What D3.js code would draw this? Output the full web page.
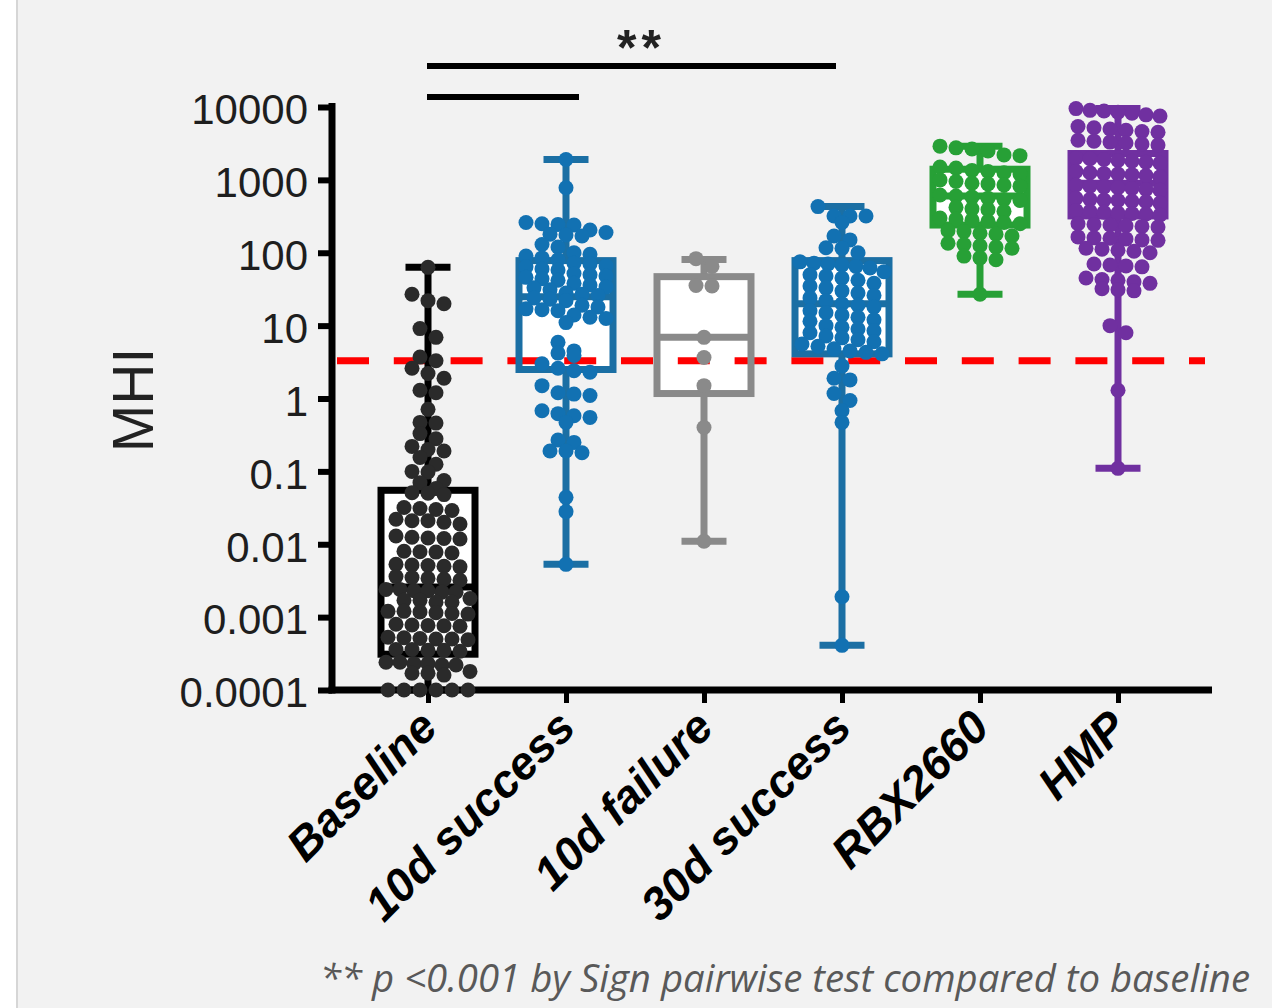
<!DOCTYPE html>
<html><head><meta charset="utf-8">
<script src="https://cdn.jsdelivr.net/npm/d3@7"></script>
<style>body{margin:0;background:#f2f2f2;} svg{display:block;}</style>
</head><body><svg id="chart" width="1272" height="1008"></svg>
<script>
// ---------------- data ----------------
const categories = ["Baseline", "10d success", "10d failure", "30d success", "RBX2660", "HMP"];

const baselineValues = [
  63, 27, 22, 20, 9.1, 6.9, 3.7, 3.3, 2.6, 2.2, 1.9, 1.3, 1.2, 0.71, 0.47, 0.46, 0.33, 0.28, 0.22, 0.2, 0.19,
  0.155, 0.125, 0.1, 0.098, 0.075, 0.07, 0.058, 0.051, 0.05,
  0.048, 0.032, 0.031, 0.03, 0.029,
  0.022, 0.021, 0.02, 0.021, 0.019,
  0.013, 0.0125, 0.012, 0.0118, 0.0122,
  0.008, 0.0078, 0.0076, 0.0079,
  0.0052, 0.0051, 0.005, 0.0049, 0.0053,
  0.0035, 0.0034, 0.0033, 0.0036, 0.0032,
  0.0024, 0.0023, 0.0022, 0.0023, 0.0024, 0.0022,
  0.0017, 0.0016, 0.0018, 0.0017, 0.0016,
  0.0012, 0.00115, 0.0011, 0.00118, 0.0012, 0.00112,
  0.0008, 0.00077, 0.00075, 0.00078, 0.00076,
  0.00052, 0.0005, 0.00051, 0.00053, 0.0005, 0.00049,
  0.00036, 0.00035, 0.00034, 0.00035, 0.00036,
  0.00024, 0.00023, 0.00022, 0.00023, 0.00024, 0.00022,
  0.00017, 0.00016, 0.00017, 0.00018,
  0.0001, 0.0001, 0.0001, 0.0001, 0.0001, 0.0001
];
const success10Values = [
  1900, 780,
  260, 250, 245, 240,
  205, 190, 180, 175, 170,
  130, 120,
  100, 95, 90, 85, 80,
  72, 70, 66, 64, 60, 58,
  52, 50, 48, 46, 44, 42,
  38, 36, 34, 33, 31,
  28, 27, 26, 24, 23, 22,
  19, 18, 17, 16.5, 16,
  14, 13, 12.5, 11,
  5.9, 4.5, 4.2, 3.9,
  3.0, 2.6, 2.4, 2.3,
  1.5, 1.2, 1.15, 1.1,
  0.68, 0.62, 0.58, 0.55, 0.47,
  0.27, 0.25, 0.19, 0.19, 0.18,
  0.044, 0.028, 0.0053
];
const failure10Values = [83, 65, 35.5, 35, 6.9, 3.65, 1.5, 0.40, 0.011];
const success30Values = [
  430, 320, 320, 320, 260, 170, 150, 117, 115, 100,
  75, 72, 70, 68, 65, 62,
  55, 50, 48, 45, 42,
  38, 35, 33, 30, 28, 26,
  24, 22, 20, 19, 18,
  16, 15, 14, 13, 12, 11.5,
  10, 9.5, 9, 8.5, 8,
  7.2, 6.8, 6.4, 6, 5.6, 5.2,
  4.8, 4.5, 4.3, 4.1,
  2.8, 1.9, 1.8, 1.17, 0.94, 0.68, 0.47, 0.0019, 0.00041
];
const rbxValues = [
  2900, 2750, 2650, 2500, 2200, 2150,
  1500, 1450, 1350, 1300, 1250, 1200,
  1000, 950, 900, 880, 850, 820,
  620, 600, 580, 560, 540, 520,
  420, 400, 390, 370,
  300, 290, 280, 270, 260, 250,
  200, 195, 185, 180, 170,
  135, 130, 125, 120, 115,
  90, 85, 80,
  27
];
const hmpValues = [
  9500, 9000, 8800, 8500, 8200, 7800, 7500,
  5400, 5200, 5000, 4800, 4600, 4500,
  3500, 3400, 3300, 3200, 3100, 3000,
  2000, 1950, 1900, 1850, 1800, 1750, 1700,
  1300, 1250, 1220, 1200, 1180, 1150, 1100,
  850, 820, 800, 780, 760, 740, 720,
  560, 540, 530, 520, 510, 500, 480,
  380, 370, 360, 350, 345, 340, 330,
  250, 245, 240, 235, 230, 225,
  165, 160, 158, 155, 150, 148,
  115, 112, 108, 105, 100,
  70, 68, 66, 64,
  45, 43, 42, 40, 38,
  32, 31, 30,
  10, 8, 1.3, 0.11
];

const boxMin    = [0.0001, 0.0053, 0.011, 0.00041, 27, 0.11];
const boxQ1     = [0.00031, 2.5, 1.17, 4.1, 240, 320];
const boxMedian = [0.0026, 25, 6.9, 20, 600, 900];
const boxQ3     = [0.055, 78, 47, 78, 1400, 2300];
const boxMax    = [63, 1900, 81, 430, 2900, 9500];

const yTickValues = [0.0001, 0.001, 0.01, 0.1, 1, 10, 100, 1000, 10000];
const yTickLabels = ["0.0001", "0.001", "0.01", "0.1", "1", "10", "100", "1000", "10000"];
const thresholdValue = 3.3;
const sigFrom = [0, 0];
const sigTo = [3, 1];
const sigLabels = ["**", ""];
const yAxisTitle = "MHI";
const footnote = "** p <0.001 by Sign pairwise test compared to baseline";

// ---------------- styles ----------------
const lineColors = ["#000000", "#1b6fa4", "#8a8a8a", "#1b6fa4", "#27a036", "#7030a0"];
const dotColors  = ["#2a2a2a", "#1271b2", "#8a8a8a", "#1271b2", "#27a036", "#7030a0"];
const groupValues = [baselineValues, success10Values, failure10Values, success30Values, rbxValues, hmpValues];

const svg = d3.select("#chart");
const W = 1272, H = 1008;

// background
svg.append("rect").attr("width", W).attr("height", H).attr("fill", "#f2f2f2");
svg.append("rect").attr("width", 16).attr("height", H).attr("fill", "#ffffff");
svg.append("rect").attr("x", 16).attr("width", 2).attr("height", H).attr("fill", "#d6d6d6");

const y = d3.scaleLog().domain([1e-4, 1e4]).range([690, 107]);
const x = d3.scalePoint().domain(categories).range([428, 1118]);
const axisX0 = 332, axisY0 = 690, axisRight = 1212;

// y axis
const yAxis = d3.axisLeft(y).tickValues(yTickValues)
  .tickFormat((d, i) => yTickLabels[i]).tickSize(14).tickPadding(10);
const gy = svg.append("g").attr("transform", `translate(${axisX0},0)`).call(yAxis);
gy.select(".domain").remove();
gy.selectAll(".tick line").attr("stroke", "#000").attr("stroke-width", 6);
gy.selectAll(".tick text").attr("font-family", "'Liberation Sans', Arial, sans-serif")
  .attr("font-size", 42).attr("fill", "#1e1e1e").attr("dy", "0.4em");
svg.append("line").attr("x1", axisX0).attr("x2", axisX0).attr("y1", 103).attr("y2", axisY0 + 3.5)
  .attr("stroke", "#000").attr("stroke-width", 7);

// x axis
const xAxis = d3.axisBottom(x).tickSize(13).tickPadding(0);
const gx = svg.append("g").attr("transform", `translate(0,${axisY0})`).call(xAxis);
gx.select(".domain").remove();
gx.selectAll(".tick line").attr("stroke", "#000").attr("stroke-width", 5);
gx.selectAll(".tick text")
  .attr("font-family", "'Liberation Sans', Arial, sans-serif")
  .attr("font-size", 46).attr("font-weight", "bold").attr("font-style", "italic")
  .attr("fill", "#000").attr("text-anchor", "end").attr("dy", null).attr("y", null)
  .attr("transform", "translate(11,40) rotate(-45)");
svg.append("line").attr("x1", axisX0 - 3.5).attr("x2", axisRight).attr("y1", axisY0).attr("y2", axisY0)
  .attr("stroke", "#000").attr("stroke-width", 7);

// y title
svg.append("text").text(yAxisTitle)
  .attr("transform", "translate(153,400) rotate(-90)")
  .attr("text-anchor", "middle").attr("font-family", "'Liberation Sans', Arial, sans-serif")
  .attr("font-size", 57).attr("fill", "#222");

// box geometry
const boxW = 94, capW = 45, sw = 7;

const gBoxFill = svg.append("g");
categories.forEach((c, i) => {
  gBoxFill.append("rect").attr("x", x(c) - boxW / 2).attr("width", boxW)
    .attr("y", y(boxQ3[i])).attr("height", y(boxQ1[i]) - y(boxQ3[i])).attr("fill", "#ffffff");
});

// threshold line
svg.append("line").attr("x1", 337).attr("x2", 1205)
  .attr("y1", y(thresholdValue)).attr("y2", y(thresholdValue))
  .attr("stroke", "#ff0000").attr("stroke-width", 7).attr("stroke-dasharray", "32,24.8");

// boxes, whiskers
const gBox = svg.append("g");
categories.forEach((c, i) => {
  const cx = x(c), col = lineColors[i];
  const g = gBox.append("g").attr("stroke", col).attr("stroke-width", sw).attr("fill", "none");
  g.append("line").attr("x1", cx).attr("x2", cx).attr("y1", y(boxQ3[i])).attr("y2", y(boxMax[i]));
  g.append("line").attr("x1", cx).attr("x2", cx).attr("y1", y(boxQ1[i])).attr("y2", y(boxMin[i]));
  g.append("line").attr("x1", cx - capW / 2).attr("x2", cx + capW / 2).attr("y1", y(boxMax[i])).attr("y2", y(boxMax[i]));
  g.append("line").attr("x1", cx - capW / 2).attr("x2", cx + capW / 2).attr("y1", y(boxMin[i])).attr("y2", y(boxMin[i]));
  g.append("rect").attr("x", cx - boxW / 2).attr("width", boxW)
    .attr("y", y(boxQ3[i])).attr("height", y(boxQ1[i]) - y(boxQ3[i]));
  g.append("line").attr("x1", cx - boxW / 2).attr("x2", cx + boxW / 2)
    .attr("y1", y(boxMedian[i])).attr("y2", y(boxMedian[i]));
});

// dots (row-binned scatter)
const r = 7.5, binH = 10, dotSpacing = 16, maxSpan = 84;
function layoutDots(values, cx) {
  const pts = values.map(v => ({ v, py: y(v) })).sort((a, b) => a.py - b.py);
  const bins = []; let cur = null;
  pts.forEach(p => {
    if (!cur || p.py - cur.start >= binH) { cur = { start: p.py, pts: [] }; bins.push(cur); }
    cur.pts.push(p);
  });
  bins.forEach(b => {
    const n = b.pts.length;
    const s = n > 1 ? Math.min(dotSpacing, maxSpan / (n - 1)) : 0;
    b.pts.forEach((p, k) => { p.px = cx + (k - (n - 1) / 2) * s; });
  });
  return pts;
}
const gDots = svg.append("g");
categories.forEach((c, i) => {
  const pts = layoutDots(groupValues[i], x(c));
  gDots.append("g").selectAll("circle").data(pts).join("circle")
    .attr("cx", d => d.px).attr("cy", d => d.py).attr("r", r).attr("fill", dotColors[i]);
});

// significance bars
const sigY = [66, 97];
sigFrom.forEach((f, k) => {
  const x1 = x(categories[f]) - 1;
  const x2 = x(categories[sigTo[k]]) + (k === 0 ? -6 : 13);
  svg.append("line").attr("x1", x1).attr("x2", x2).attr("y1", sigY[k]).attr("y2", sigY[k])
    .attr("stroke", "#000").attr("stroke-width", 6);
  if (sigLabels[k]) {
    svg.append("text").text(sigLabels[k]).attr("x", (x1 + x2) / 2 + 10).attr("y", sigY[k] - 1)
      .attr("text-anchor", "middle").attr("font-family", "'Liberation Sans', Arial, sans-serif")
      .attr("font-size", 50).attr("font-weight", "bold").attr("letter-spacing", 5).attr("fill", "#222");
  }
});

// footnote
svg.append("text").text(footnote).attr("x", 320).attr("y", 992)
  .attr("font-family", "'Open Sans', 'Noto Sans', sans-serif").attr("font-style", "italic")
  .attr("font-size", 38).attr("fill", "#595959")
  .attr("textLength", 930).attr("lengthAdjust", "spacingAndGlyphs");
</script>
</body></html>
